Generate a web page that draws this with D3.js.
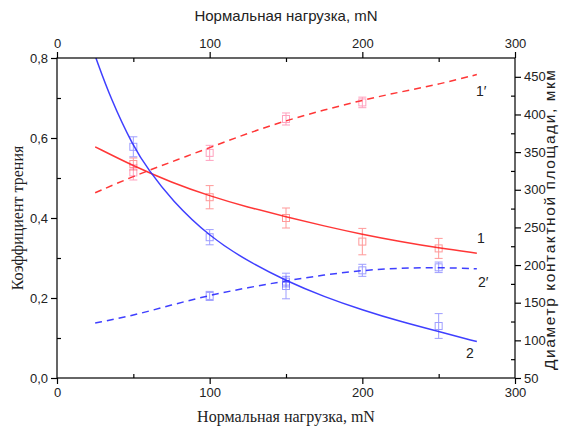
<!DOCTYPE html>
<html>
<head>
<meta charset="utf-8">
<script src="https://cdn.jsdelivr.net/npm/d3@7"></script>
<style>
  html, body { margin: 0; padding: 0; background: #ffffff; }
  svg { display: block; }
</style>
</head>
<body>
<svg id="chart" width="563" height="429"></svg>
<script>
// Load values (mN) at which measurements were taken
const loads = [50, 100, 150, 200, 250];

// Friction coefficient, curve 1 (red) and curve 2 (blue): measured points with errors
const friction1 = [0.535, 0.452, 0.40, 0.341, 0.324];
const friction1Err = [0.015, 0.029, 0.025, 0.033, 0.025];
const friction2Loads = [50, 100, 150, 250];
const friction2 = [0.578, 0.352, 0.23, 0.13];
const friction2Err = [0.025, 0.019, 0.032, 0.031];

// Contact-area diameter (µm), curves 1′ (red) and 2′ (blue): measured points with errors
const diam1Loads = [50, 100, 150, 200];
const diam1 = [323, 349, 394, 416];
const diam1Err = [10, 10, 8, 7];
const diam2Loads = [100, 150, 200, 250];
const diam2 = [159, 178, 193, 197];
const diam2Err = [6, 7, 8, 7];

// Fitted trend lines, sampled along the load axis
const fitLoads = [25, 50, 75, 100, 125, 150, 175, 200, 225, 250, 275];
const fit1 = [0.578, 0.530, 0.489, 0.455, 0.427, 0.403, 0.380, 0.359, 0.341, 0.325, 0.312];
const fit2Loads = [25.5, 35, 50, 60, 75, 100, 125, 150, 175, 200, 225, 250, 275];
const fit2 = [0.80, 0.70, 0.578, 0.52, 0.445, 0.353, 0.292, 0.243, 0.203, 0.170, 0.141, 0.116, 0.091];
const fitDiam1 = [296, 318, 337, 356, 375, 392, 406, 419, 430, 440, 453];
const fitDiam2 = [123, 133, 147, 160, 170, 179, 187, 193, 196, 197, 195];

// Axis ticks
const loadTicks = [0, 100, 200, 300];
const loadMinor = [50, 150, 250];
const frictionTicks = [0, 0.2, 0.4, 0.6, 0.8];
const frictionMinor = [0.1, 0.3, 0.5, 0.7];
const diamTicks = [50, 100, 150, 200, 250, 300, 350, 400, 450];
const diamMinor = [75, 125, 175, 225, 275, 325, 375, 425];

const plotL = 57, plotR = 515, plotT = 58, plotB = 378;

const svg = d3.select("#chart");
const x = d3.scaleLinear().domain([0, 300]).range([plotL, plotR]);
const yF = d3.scaleLinear().domain([0, 0.8]).range([plotB, plotT]);
const yD = d3.scaleLinear().domain([50, 475]).range([plotB, plotT]);

const RED = "#ff2020", BLUE = "#2a2aff";
const sans = "'Liberation Sans', Arial, sans-serif";
const serif = "'Liberation Serif', 'Times New Roman', serif";
const fmtF = d => d3.format(".1f")(d).replace(".", ",");

// Trend lines
const line = (xs, ys, scaleY) =>
  d3.line().x((d, i) => x(xs[i])).y(d => scaleY(d)).curve(d3.curveBasis)(ys);

svg.append("clipPath").attr("id", "plotArea")
  .append("rect").attr("x", plotL).attr("y", plotT).attr("width", plotR - plotL).attr("height", plotB - plotT);

svg.append("path").attr("d", line(fitLoads, fitDiam1, yD))
  .attr("fill", "none").attr("stroke", RED).attr("stroke-width", 1.5)
  .attr("stroke-dasharray", "7,5").attr("opacity", 0.9);
svg.append("path").attr("d", line(fitLoads, fitDiam2, yD))
  .attr("fill", "none").attr("stroke", BLUE).attr("stroke-width", 1.5)
  .attr("stroke-dasharray", "7,5").attr("opacity", 0.9);
svg.append("path").attr("d", line(fitLoads, fit1, yF))
  .attr("fill", "none").attr("stroke", RED).attr("stroke-width", 1.5).attr("opacity", 0.9);
svg.append("path").attr("d", line(fit2Loads, fit2, yF))
  .attr("clip-path", "url(#plotArea)")
  .attr("fill", "none").attr("stroke", BLUE).attr("stroke-width", 1.5).attr("opacity", 0.9);

// Measured points: hollow squares with error bars
function points(xs, ys, errs, scaleY, color) {
  const g = svg.append("g").attr("stroke", color).attr("fill", "none")
    .attr("stroke-width", 1).attr("opacity", 0.45);
  xs.forEach((n, i) => {
    const cx = x(n), y0 = scaleY(ys[i] - errs[i]), y1 = scaleY(ys[i] + errs[i]);
    g.append("line").attr("x1", cx).attr("x2", cx).attr("y1", y0).attr("y2", y1);
    g.append("line").attr("x1", cx - 4).attr("x2", cx + 4).attr("y1", y0).attr("y2", y0);
    g.append("line").attr("x1", cx - 4).attr("x2", cx + 4).attr("y1", y1).attr("y2", y1);
    g.append("rect").attr("x", cx - 3.5).attr("y", scaleY(ys[i]) - 3.5).attr("width", 7).attr("height", 7);
  });
}
points(loads, friction1, friction1Err, yF, RED);
points(friction2Loads, friction2, friction2Err, yF, BLUE);
points(diam1Loads, diam1, diam1Err, yD, "#ff3070");
points(diam2Loads, diam2, diam2Err, yD, BLUE);

// Frame
svg.append("rect").attr("x", plotL).attr("y", plotT).attr("width", plotR - plotL).attr("height", plotB - plotT)
  .attr("fill", "none").attr("stroke", "#000").attr("stroke-width", 1.2);

// Axes
function styleAxis(g) {
  g.select(".domain").remove();
  g.selectAll("text").attr("font-family", sans).attr("font-size", 13).attr("fill", "#222");
  g.selectAll("line").attr("stroke", "#000").attr("stroke-width", 1.2);
}
svg.append("g").attr("transform", `translate(0,${plotB})`)
  .call(d3.axisBottom(x).tickValues(loadTicks).tickSize(6).tickPadding(4).tickFormat(d3.format("d")))
  .call(styleAxis);
svg.append("g").attr("transform", `translate(0,${plotB})`)
  .call(d3.axisTop(x).tickValues(loadMinor).tickSize(4).tickFormat(""))
  .call(styleAxis);
svg.append("g").attr("transform", `translate(0,${plotT})`)
  .call(d3.axisTop(x).tickValues(loadTicks).tickSize(6).tickPadding(4).tickFormat(d3.format("d")))
  .call(styleAxis);
svg.append("g").attr("transform", `translate(0,${plotT})`)
  .call(d3.axisBottom(x).tickValues(loadMinor).tickSize(4).tickFormat(""))
  .call(styleAxis);
svg.append("g").attr("transform", `translate(${plotL},0)`)
  .call(d3.axisLeft(yF).tickValues(frictionTicks).tickSize(6).tickPadding(3).tickFormat(fmtF))
  .call(styleAxis);
svg.append("g").attr("transform", `translate(${plotL},0)`)
  .call(d3.axisRight(yF).tickValues(frictionMinor).tickSize(4).tickFormat(""))
  .call(styleAxis);
svg.append("g").attr("transform", `translate(${plotR},0)`)
  .call(d3.axisRight(yD).tickValues(diamTicks).tickSize(6).tickPadding(3).tickFormat(d3.format("d")))
  .call(styleAxis);
svg.append("g").attr("transform", `translate(${plotR},0)`)
  .call(d3.axisLeft(yD).tickValues(diamMinor).tickSize(4).tickFormat(""))
  .call(styleAxis);

// Axis titles
svg.append("text").attr("x", 286).attr("y", 21).attr("text-anchor", "middle")
  .attr("font-family", sans).attr("font-size", 15).attr("fill", "#222")
  .text("Нормальная нагрузка, mN");
svg.append("text").attr("x", 286).attr("y", 422).attr("text-anchor", "middle")
  .attr("font-family", serif).attr("font-size", 16).attr("fill", "#222")
  .text("Нормальная нагрузка, mN");
svg.append("text").attr("transform", `translate(23,218) rotate(-90)`).attr("text-anchor", "middle")
  .attr("font-family", serif).attr("font-size", 16).attr("fill", "#222")
  .text("Коэффициент трения");
svg.append("text").attr("transform", `translate(555,220) rotate(-90)`).attr("text-anchor", "middle")
  .attr("font-family", sans).attr("font-size", 15.5).attr("fill", "#222")
  .attr("textLength", 300).attr("lengthAdjust", "spacing")
  .text("Диаметр контактной площади, мкм");

// Curve labels
const labels = [
  { t: "1′", x: 476, y: 96 },
  { t: "1", x: 477, y: 243 },
  { t: "2′", x: 478, y: 287 },
  { t: "2", x: 466, y: 358 }
];
svg.append("g").selectAll("text").data(labels).join("text")
  .attr("x", d => d.x).attr("y", d => d.y)
  .attr("font-family", sans).attr("font-size", 14).attr("fill", "#222")
  .text(d => d.t);
</script>
</body>
</html>
